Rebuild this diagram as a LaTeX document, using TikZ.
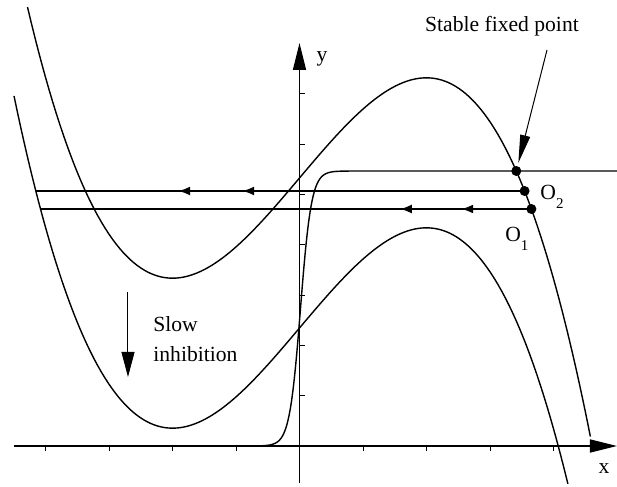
\documentclass[tikz,border=0pt]{standalone}
\usepackage{fontspec}
\setmainfont{Liberation Serif}
\usepackage{tikz}
\usetikzlibrary{arrows.meta,positioning,calc,decorations.markings}
\definecolor{phink}{RGB}{0,0,0}
\tikzset{
  nullcl/.style={draw=phink, line width=0.7pt},
  axisln/.style={draw=phink, line width=0.75pt,
    -{Triangle[length=13.5pt,width=6.5pt]}},
  tickln/.style={draw=phink, line width=0.45pt},
  traj/.style={draw=phink, line width=1.3pt},
  fixpt/.style={circle, fill=phink, inner sep=0pt, minimum size=5pt},
  lbl/.style={font=\fontsize{10.8}{15}\selectfont, inner sep=0pt, text=phink},
  callout/.style={draw=phink, line width=0.5pt,
    -{Triangle[length=14pt,width=5pt]}},
  flowarr/.style 2 args={postaction={decorate}, decoration={markings,
    mark=at position #1 with {\arrow{Latex[length=6pt,width=4.5pt]}},
    mark=at position #2 with {\arrow{Latex[length=6pt,width=4.5pt]}}}},
  every picture/.append style={line join=round}
}
\newcommand{\Osub}[1]{O\raisebox{-4.5pt}{\fontsize{7.5}{9}\selectfont #1}}

\begin{document}
\begin{tikzpicture}[x=50pt, y=50pt]
  \useasboundingbox (-2.995,-0.41) rectangle (3.175,4.46);
  % axes
  \coordinate (xl) at (-2.855,0);
  \coordinate (xr) at (3.175,0);
  \coordinate (yb) at (0,-0.37);
  \coordinate (yt) at (0,4.03);
  \draw[axisln] (xl) -- (xr);
  \draw[axisln] (yb) -- (yt);
  \foreach \k in {-4,-3,-2,-1,1,2,3,4}
    \draw[tickln] (\k*0.635,0) -- (\k*0.635,-0.05);
  \foreach \k in {1,...,7}
    \draw[tickln] (0,\k*0.503) -- (0.06,\k*0.503);
  \node[lbl] (xlab) at (3.045,-0.23) {x};
  \node[lbl] (ylab) at (0.225,3.875) {y};

  % nullclines
  \draw[nullcl] plot[domain=-2.72:2.91, samples=160]
    (\x, {2.68 + 1.184*\x - 0.245*\x*\x*\x});
  \draw[nullcl] plot[domain=-2.855:2.686, samples=160]
    (\x, {1.18 + 1.184*\x - 0.245*\x*\x*\x});
  \draw[nullcl] plot[domain=-0.45:0.5, samples=190]
    (\x, {2.75/(1+exp(-(\x-0.01)/0.055))}) -- (3.175,2.75);

  % fixed points and trajectories
  \node[fixpt] (fp) at (2.168,2.75) {};
  \node[fixpt] (O2) at (2.251,2.55) {};
  \node[fixpt] (O1) at (2.319,2.37) {};
  \coordinate (L2) at (-2.637,2.55);
  \coordinate (L1) at (-2.59,2.37);
  \draw[traj, line width=1.35pt, flowarr={0.578}{0.709}] (O2.center) -- (L2);
  \draw[traj, line width=1pt, flowarr={0.143}{0.268}] (O1.center) -- (L1);
  \node[lbl, anchor=base west] (O2lab) at ($(O2)+(0.155,-0.09)$) {\Osub{2}};
  \node[lbl, anchor=base west] (O1lab) at ($(O1)+(-0.264,-0.33)$) {\Osub{1}};

  % annotations
  \node[lbl, anchor=base] (sfplab) at (2.025,4.14) {Stable fixed point};
  \coordinate (sfptail) at (2.475,3.96);
  \draw[callout, shorten >=1.5pt] (sfptail) -- (fp);
  \node[lbl, anchor=north west, align=left] (slowlab) at (-1.465,1.30)
    {Slow\\inhibition};
  \coordinate (slowtop) at (-1.715,1.54);
  \coordinate (slowtip) at (-1.715,0.69);
  \draw[callout, -{Triangle[length=12.5pt,width=6.5pt]}] (slowtop) -- (slowtip);
\end{tikzpicture}
\end{document}
